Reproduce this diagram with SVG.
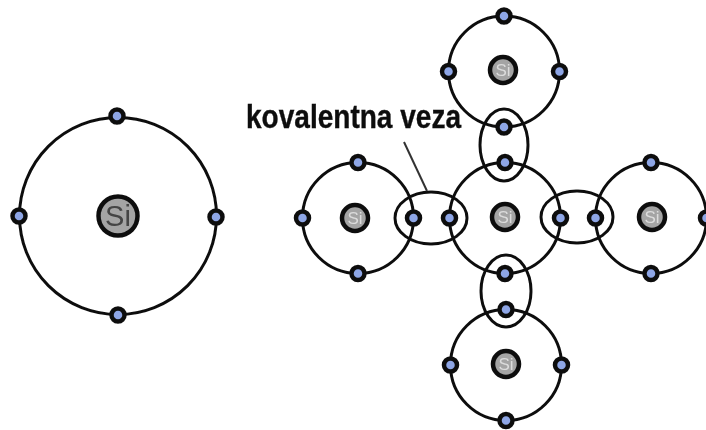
<svg xmlns="http://www.w3.org/2000/svg" width="706" height="430" viewBox="0 0 706 430">
<style>
.orbit,.bond{fill:none;stroke:#111;stroke-width:3}
.e{fill:#8ea6e6;stroke:#111;stroke-width:4.500}
.n{fill:#a4a4a4;stroke:#111;stroke-width:4.500}
.s{font-family:"Liberation Sans",Arial,sans-serif;text-anchor:middle;fill:#dcdcdc;font-size:17px}
.b{font-family:"Liberation Sans",Arial,sans-serif;text-anchor:middle;fill:#444;font-size:29px}
.lbl{font-family:"Liberation Sans",Arial,sans-serif;font-weight:bold;font-size:34px;fill:#111;stroke:#111;stroke-width:.4}
</style>
<defs>
<filter id="soft" x="0" y="0" width="100%" height="100%" filterUnits="userSpaceOnUse"><feGaussianBlur stdDeviation="0.6"/></filter>
<g id="small">
<circle class="orbit" r="55.500"/>
<circle class="e" cy="-55.500" r="6.500"/><circle class="e" cy="55.500" r="6.500"/><circle class="e" cx="-55.500" r="6.500"/><circle class="e" cx="55.500" r="6.500"/>
</g>
<g id="nuc"><circle class="n" r="13"/><text class="s" y="6">Si</text></g>
</defs>
<rect width="706" height="430" fill="#fff"/>
<g filter="url(#soft)">
<g id="atom-single">
<circle class="orbit" cx="118" cy="216" r="98.500"/>
<circle class="n" cx="118" cy="216" r="19.500"/>
<text class="b" x="118" y="226">Si</text>
<circle class="e" cx="117" cy="116" r="6.500"/><circle class="e" cx="118" cy="315" r="6.500"/><circle class="e" cx="19" cy="216" r="6.500"/><circle class="e" cx="216" cy="217" r="6.500"/>
</g>
<g id="atom-top"><use href="#small" x="504" y="71.500"/><use href="#nuc" x="503" y="70"/></g>
<g id="atom-left"><use href="#small" x="358" y="218"/><use href="#nuc" x="355" y="218"/></g>
<g id="atom-center"><use href="#small" x="505" y="218"/><use href="#nuc" x="505" y="217"/></g>
<g id="atom-right"><use href="#small" x="651" y="218"/><use href="#nuc" x="652" y="217"/></g>
<g id="atom-bottom"><use href="#small" x="506" y="365"/><use href="#nuc" x="506" y="364"/></g>
<g id="connectors">
<ellipse class="bond" cx="431" cy="218" rx="36" ry="26"/>
<ellipse class="bond" cx="577" cy="217" rx="36" ry="26"/>
<ellipse class="bond" cx="504" cy="145" rx="24" ry="36"/>
<ellipse class="bond" cx="506" cy="291" rx="25" ry="36"/>
<line x1="404" y1="142" x2="427" y2="191" stroke="#333" stroke-width="2"/>
</g>
<text id="label" class="lbl" x="246" y="128" textLength="215" lengthAdjust="spacingAndGlyphs">kovalentna veza</text>
</g>
</svg>
